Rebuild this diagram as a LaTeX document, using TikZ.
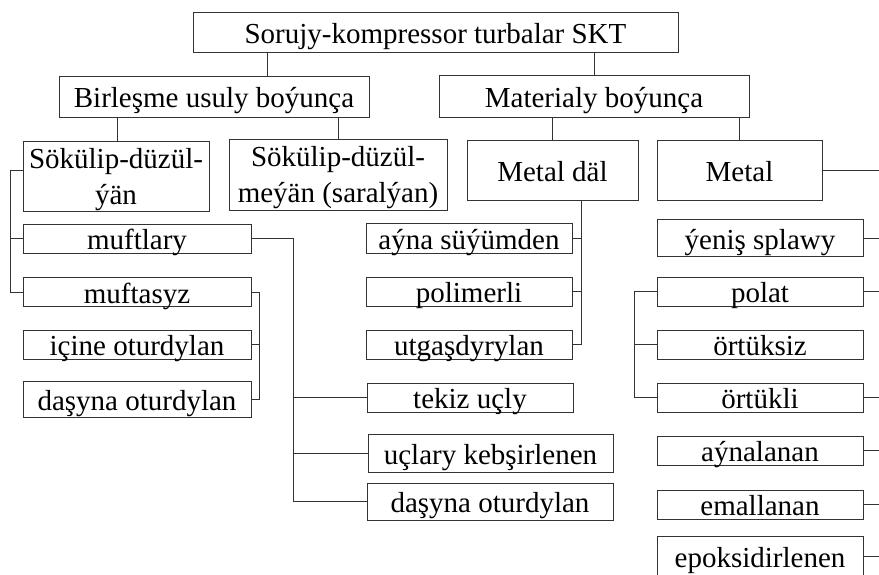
\documentclass[tikz,border=0pt]{standalone}
\usepackage{fontspec}
\setmainfont{Liberation Serif}
\newcommand{\FT}{\fontsize{29}{36}\selectfont}

\begin{document}
\begin{tikzpicture}[x=1pt,y=-1pt]
\tikzstyle{kutu}=[draw=black!80,line width=0.9pt,inner sep=0pt,text=black,font=\FT,text height=22pt,text depth=0pt,minimum width=206pt,minimum height=29pt]
\tikzstyle{kutuiki}=[draw=black!80,line width=0.9pt,inner sep=0pt,text=black,font=\FT,align=center,text depth=0pt]
\tikzstyle{line}=[black!80,line width=0.9pt]

\useasboundingbox (0,0) rectangle (879,574);

\node[kutu,minimum width=485pt,minimum height=40pt] (skt) at (435.5,32) {Sorujy-kompressor turbalar SKT};
\node[kutu,minimum width=310pt,minimum height=41pt] (bir) at (214,96.5) {Birleşme usuly boýunça};
\node[kutu,minimum width=310pt,minimum height=42pt] (mat) at (594,96) {Materialy boýunça};

\node[kutuiki,minimum width=186pt,minimum height=70pt] (sokA) at (116,176) {Sökülip-düzül-\\ýän};
\node[kutuiki,minimum width=218pt,minimum height=71pt] (sokB) at (338,174.5) {Sökülip-düzül-\\meýän (saralýan)};
\node[kutu,minimum width=171pt,minimum height=60pt] (metdal) at (552.5,170) {Metal däl};
\node[kutu,minimum width=165pt,minimum height=60pt] (metal) at (739.5,170) {Metal};

\node[kutu,minimum width=228pt] (muftlary) at (137,238.5) {muftlary};
\node[kutu,minimum width=228pt] (muftasyz) at (137,292) {muftasyz};
\node[kutu,minimum width=228pt] (icine) at (137,344.5) {içine oturdylan};
\node[kutu,minimum width=228pt,minimum height=36pt] (dasA) at (137,399) {daşyna oturdylan};

\node[kutu,minimum height=30pt] (ayna) at (469,238) {aýna süýümden};
\node[kutu] (polimer) at (469,291.5) {polimerli};
\node[kutu] (utgas) at (469,344.5) {utgaşdyrylan};
\node[kutu] (tekiz) at (470,397.5) {tekiz uçly};
\node[kutu,minimum width=245pt,minimum height=38pt] (uclary) at (490.5,453) {uçlary kebşirlenen};
\node[kutu,minimum width=246pt,minimum height=37pt] (dasB) at (490,501.5) {daşyna oturdylan};

\node[kutu,minimum height=37pt] (yenis) at (760,238) {ýeniş splawy};
\node[kutu] (polat) at (760,291.5) {polat};
\node[kutu] (ortuksiz) at (760,344.5) {örtüksiz};
\node[kutu] (ortukli) at (760,397.5) {örtükli};
\node[kutu] (aynalanan) at (760,450.5) {aýnalanan};
\node[kutu] (emallanan) at (760,504.5) {emallanan};
\node[kutu,minimum height=40pt] (epoksi) at (760,556) {epoksidirlenen};

\draw[line] (267,0 |- skt.south) -- (267,0 |- bir.north);
\draw[line] (mat.north |- skt.south) -- (mat.north);
\draw[line] (117,0 |- bir.south) -- (117,0 |- sokA.north);
\draw[line] (sokB.north |- bir.south) -- (sokB.north);
\draw[line] (metdal.north |- mat.south) -- (metdal.north);
\draw[line] (metal.north |- mat.south) -- (metal.north);

\draw[line] ([yshift=6pt]sokA.west) -| (10,0 |- muftasyz.west) -- (muftasyz.west);
\draw[line] (muftlary.west) -- (10,0 |- muftlary.west);

\draw[line] (muftlary.east) -| (293,0 |- dasB.west) -- (dasB.west);
\draw[line] (tekiz.west) -- (293,0 |- tekiz.west);
\draw[line] (uclary.west) -- (293,0 |- uclary.west);

\draw[line] (muftasyz.east) -| (259,0 |- dasA.east) -- (dasA.east);
\draw[line] (icine.east) -- (259,0 |- icine.east);

\draw[line] (581,0 |- metdal.south) |- (utgas.east);
\draw[line] (ayna.east) -- (581,0 |- ayna.east);
\draw[line] (polimer.east) -- (581,0 |- polimer.east);

\draw[line] (polat.west) -| (634,0 |- ortukli.west) -- (ortukli.west);
\draw[line] (ortuksiz.west) -- (634,0 |- ortuksiz.west);

\draw[line] (metal.east) -- (879,0 |- metal.east);
\draw[line] (yenis.east) -- (879,0 |- yenis.east);
\draw[line] (polat.east) -- (879,0 |- polat.east);
\draw[line] (ortukli.east) -- (879,0 |- ortukli.east);
\draw[line] (aynalanan.east) -- (879,0 |- aynalanan.east);
\draw[line] (emallanan.east) -- (879,0 |- emallanan.east);
\draw[line] (epoksi.east) -- (879,0 |- epoksi.east);
\end{tikzpicture}
\end{document}
